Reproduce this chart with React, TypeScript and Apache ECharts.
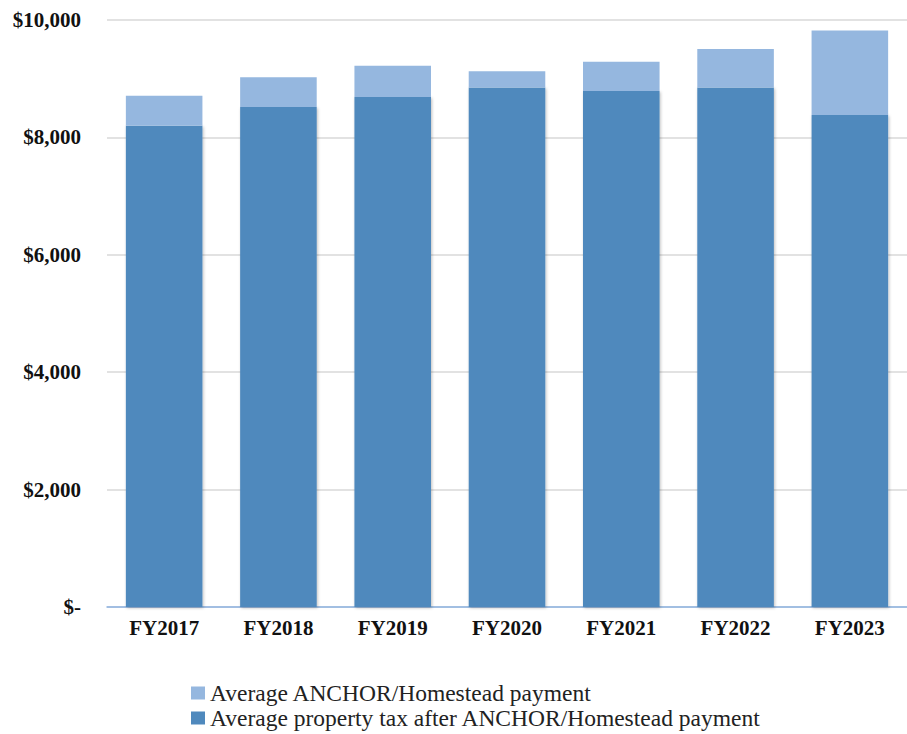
import React, { useEffect, useRef } from "react";
import * as echarts from "echarts";

// Fiscal years on the category axis
const fiscalYears = ["FY2017", "FY2018", "FY2019", "FY2020", "FY2021", "FY2022", "FY2023"];

// Average property tax remaining after the ANCHOR/Homestead credit
const taxAfterPayment = [8200, 8520, 8690, 8850, 8790, 8850, 8380];

// Average ANCHOR/Homestead payment stacked on top
const anchorPayment = [510, 505, 530, 275, 500, 655, 1440];

const seriesNames = {
  anchor: "Average ANCHOR/Homestead payment",
  after: "Average property tax after ANCHOR/Homestead payment",
};

const yTicks = { min: 0, max: 10000, interval: 2000 };

const formatDollars = (v: number) =>
  v === 0 ? "$-" : "$" + v.toLocaleString("en-US");

export default function App() {
  const ref = useRef<HTMLDivElement>(null);

  useEffect(() => {
    if (!ref.current) return;
    const chart = echarts.init(ref.current, undefined, { renderer: "svg" });
    const serif = "'Liberation Serif', 'DejaVu Serif', serif";
    const legendText = { fontFamily: serif, fontSize: 23.5, lineHeight: 24, color: "#222222" };
    const legendBase = {
      orient: "vertical",
      left: 191,
      itemWidth: 14,
      itemHeight: 13,
      icon: "rect",
      padding: 0,
      textStyle: legendText,
    };
    chart.setOption({
      animation: false,
      backgroundColor: "#ffffff",
      grid: { left: 107, top: 20, width: 805, bottom: 127, containLabel: false },
      legend: [
        { ...legendBase, top: 681, data: [seriesNames.anchor] },
        { ...legendBase, top: 706, data: [seriesNames.after] },
      ],
      xAxis: {
        type: "category",
        data: fiscalYears,
        axisLine: { lineStyle: { color: "#8db3e2", width: 1.5 } },
        axisTick: { inside: true, length: 6, lineStyle: { color: "#8db3e2", width: 1.5 } },
        axisLabel: {
          fontFamily: serif,
          fontWeight: "bold",
          fontSize: 21,
          color: "#111111",
          margin: 10,
        },
      },
      yAxis: {
        type: "value",
        min: yTicks.min,
        max: yTicks.max,
        interval: yTicks.interval,
        axisLine: { show: false },
        axisTick: { show: false },
        splitLine: { lineStyle: { color: "#d9d9d9", width: 1.5 } },
        axisLabel: {
          fontFamily: serif,
          fontWeight: "bold",
          fontSize: 21,
          color: "#111111",
          margin: 26,
          formatter: formatDollars,
        },
      },
      series: [
        {
          name: seriesNames.after,
          type: "bar",
          stack: "total",
          data: taxAfterPayment,
          barCategoryGap: "33%",
          itemStyle: {
            color: "#4f89bd",
            shadowColor: "rgba(0,0,0,0.25)",
            shadowBlur: 3,
            shadowOffsetX: 1,
            shadowOffsetY: 1,
          },
        },
        {
          name: seriesNames.anchor,
          type: "bar",
          stack: "total",
          data: anchorPayment,
          barCategoryGap: "33%",
          itemStyle: { color: "#95b7df" },
        },
      ],
    });
    return () => chart.dispose();
  }, []);

  return (
    <div
      ref={ref}
      style={{ position: "absolute", left: 0, top: 0, width: 907, height: 734 }}
    />
  );
}
